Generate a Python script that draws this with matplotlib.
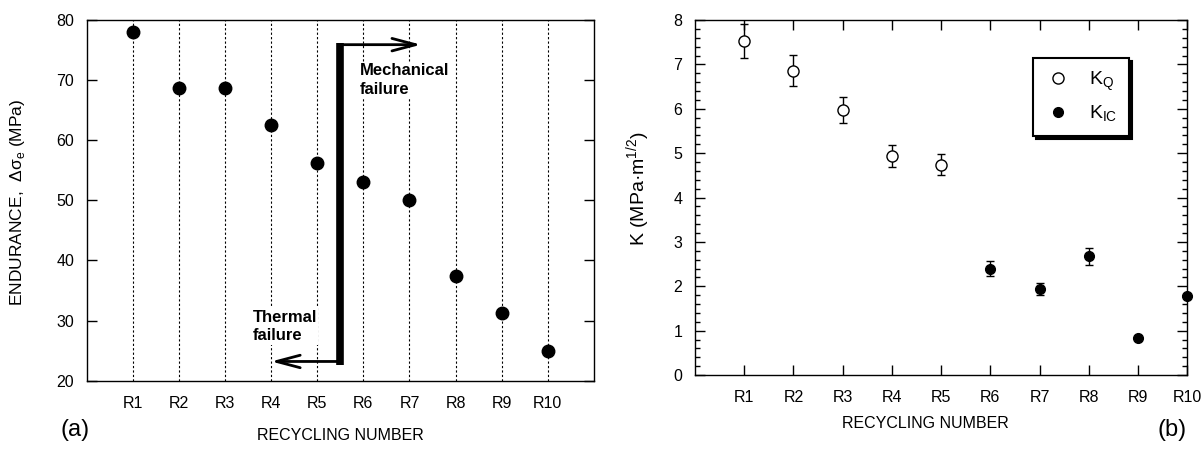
import matplotlib
matplotlib.use('Agg')
import matplotlib.pyplot as plt
import numpy as np

plt.rcParams['font.family'] = ['Liberation Sans', 'DejaVu Sans']
plt.rcParams['mathtext.fontset'] = 'custom'
plt.rcParams['mathtext.rm'] = 'Liberation Sans'

# data
runs = ['R1', 'R2', 'R3', 'R4', 'R5', 'R6', 'R7', 'R8', 'R9', 'R10']
endurance = [78.0, 68.7, 68.7, 62.5, 56.2, 53.0, 50.0, 37.5, 31.2, 25.0]

kq_runs = [1, 2, 3, 4, 5]
kq_vals = [7.53, 6.86, 5.97, 4.94, 4.74]
kq_err = [0.38, 0.35, 0.30, 0.25, 0.24]

kic_runs = [6, 7, 8, 9, 10]
kic_vals = [2.39, 1.94, 2.68, 0.84, 1.78]
kic_err = [0.17, 0.13, 0.19, 0.0, 0.0]

# failure boundary annotation (a)
split_x = 5.5
split_top = 76.1
split_bot = 22.6
mech_arrow_end = 7.25
therm_arrow_end = 4.0

fig = plt.figure(figsize=(12.04, 4.49), dpi=100)
axa = fig.add_axes([0.0720, 0.1521, 0.4213, 0.8033])
axb = fig.add_axes([0.5772, 0.1648, 0.4090, 0.7906])

xpos = np.arange(1, len(runs) + 1)

# ---- panel (a)
for x in xpos:
    axa.axvline(x, color='black', lw=0.8, ls=(0, (2, 2)), zorder=1)
axa.plot(xpos, endurance, 'o', color='black', ms=9, zorder=4)
axa.plot([split_x, split_x], [split_bot, split_top], color='black', lw=5.5,
         solid_capstyle='butt', zorder=5)
arr = dict(arrowstyle='->,head_length=1.7,head_width=0.45', lw=2, color='black',
           shrinkA=0, shrinkB=0)
axa.annotate('', xy=(mech_arrow_end, split_top - 0.2), xytext=(split_x, split_top - 0.2),
             arrowprops=arr, zorder=5)
axa.annotate('', xy=(therm_arrow_end, 23.2), xytext=(split_x, 23.2),
             arrowprops=arr, zorder=5)
bb = dict(facecolor='white', edgecolor='none', pad=1)
axa.text(5.93, 70.0, 'Mechanical\nfailure', fontsize=12, fontweight='bold',
         ha='left', va='center', linespacing=1.3, bbox=bb, zorder=3)
axa.text(3.6, 29.0, 'Thermal\nfailure', fontsize=12, fontweight='bold',
         ha='left', va='center', linespacing=1.3, bbox=bb, zorder=3)

axa.set_xlim(0, 11)
axa.set_ylim(20, 80)
axa.set_xticks(xpos)
axa.set_xticklabels(runs)
axa.set_yticks(np.arange(20, 81, 10))
axa.tick_params(axis='both', direction='in', length=7, width=1, labelsize=11.5,
                right=True)
axa.tick_params(axis='x', length=0, pad=11)
axa.tick_params(axis='y', pad=9)
axa.set_ylabel('ENDURANCE,  Δσ$_\\mathregular{e}$ (MPa)', fontsize=12.5)
axa.yaxis.set_label_coords(-0.118, 0.495)
axa.set_xlabel('RECYCLING NUMBER', fontsize=11.5, va='top')
axa.xaxis.set_label_coords(0.5, -0.13)

# ---- panel (b)
eq = axb.errorbar(kq_runs, kq_vals, yerr=kq_err, fmt='o', ms=8, mfc='white', mec='black',
                  mew=1.0, ecolor='black', elinewidth=1.0, capsize=2.8, capthick=1.0,
                  zorder=3)
ei = axb.errorbar(kic_runs, kic_vals, yerr=kic_err, fmt='o', ms=7, color='black',
                  ecolor='black', elinewidth=1.0, capsize=2.8, capthick=1.0,
                  zorder=3, clip_on=False)
axb.set_xlim(0, 10)
axb.set_ylim(0, 8)
axb.set_xticks(xpos)
axb.set_xticklabels(runs)
axb.set_yticks(np.arange(0, 9, 1))
axb.set_yticks(np.arange(0, 8.01, 0.2), minor=True)
axb.tick_params(axis='both', which='major', direction='in', length=7, width=1,
                labelsize=11.5, top=True, right=True)
axb.tick_params(axis='y', which='minor', direction='in', length=3.5, width=1,
                left=True, right=True)
axb.tick_params(axis='x', which='minor', bottom=False, top=False)
axb.tick_params(axis='x', pad=11)
axb.tick_params(axis='y', pad=9)
axb.set_ylabel('K (MPa·m$^\\mathregular{1/2}$)', fontsize=14)
axb.yaxis.set_label_coords(-0.085, 0.524)
axb.set_xlabel('RECYCLING NUMBER', fontsize=11.5, va='top')
axb.xaxis.set_label_coords(0.468, -0.115)

leg = axb.legend([eq[0], ei[0]], ['K$_\\mathregular{Q}$', 'K$_\\mathregular{IC}$'],
                 loc='upper left', bbox_to_anchor=(0.686, 0.893), fontsize=14,
                 frameon=True, fancybox=False, edgecolor='black', framealpha=1,
                 shadow={'color': 'black', 'ox': 2.2, 'oy': -2.2, 'alpha': 1},
                 borderpad=0.6, labelspacing=0.55, handletextpad=0.9,
                 handlelength=1.4, borderaxespad=0)
leg.get_frame().set_linewidth(1.5)

for ax in (axa, axb):
    for s in ax.spines.values():
        s.set_linewidth(1.0)

fig.text(60 / 1204, 1 - 430 / 449, '(a)', fontsize=17, ha='left', va='center')
fig.text(1187 / 1204, 1 - 430 / 449, '(b)', fontsize=17, ha='right', va='center')

fig.savefig('out.png', dpi=100)
